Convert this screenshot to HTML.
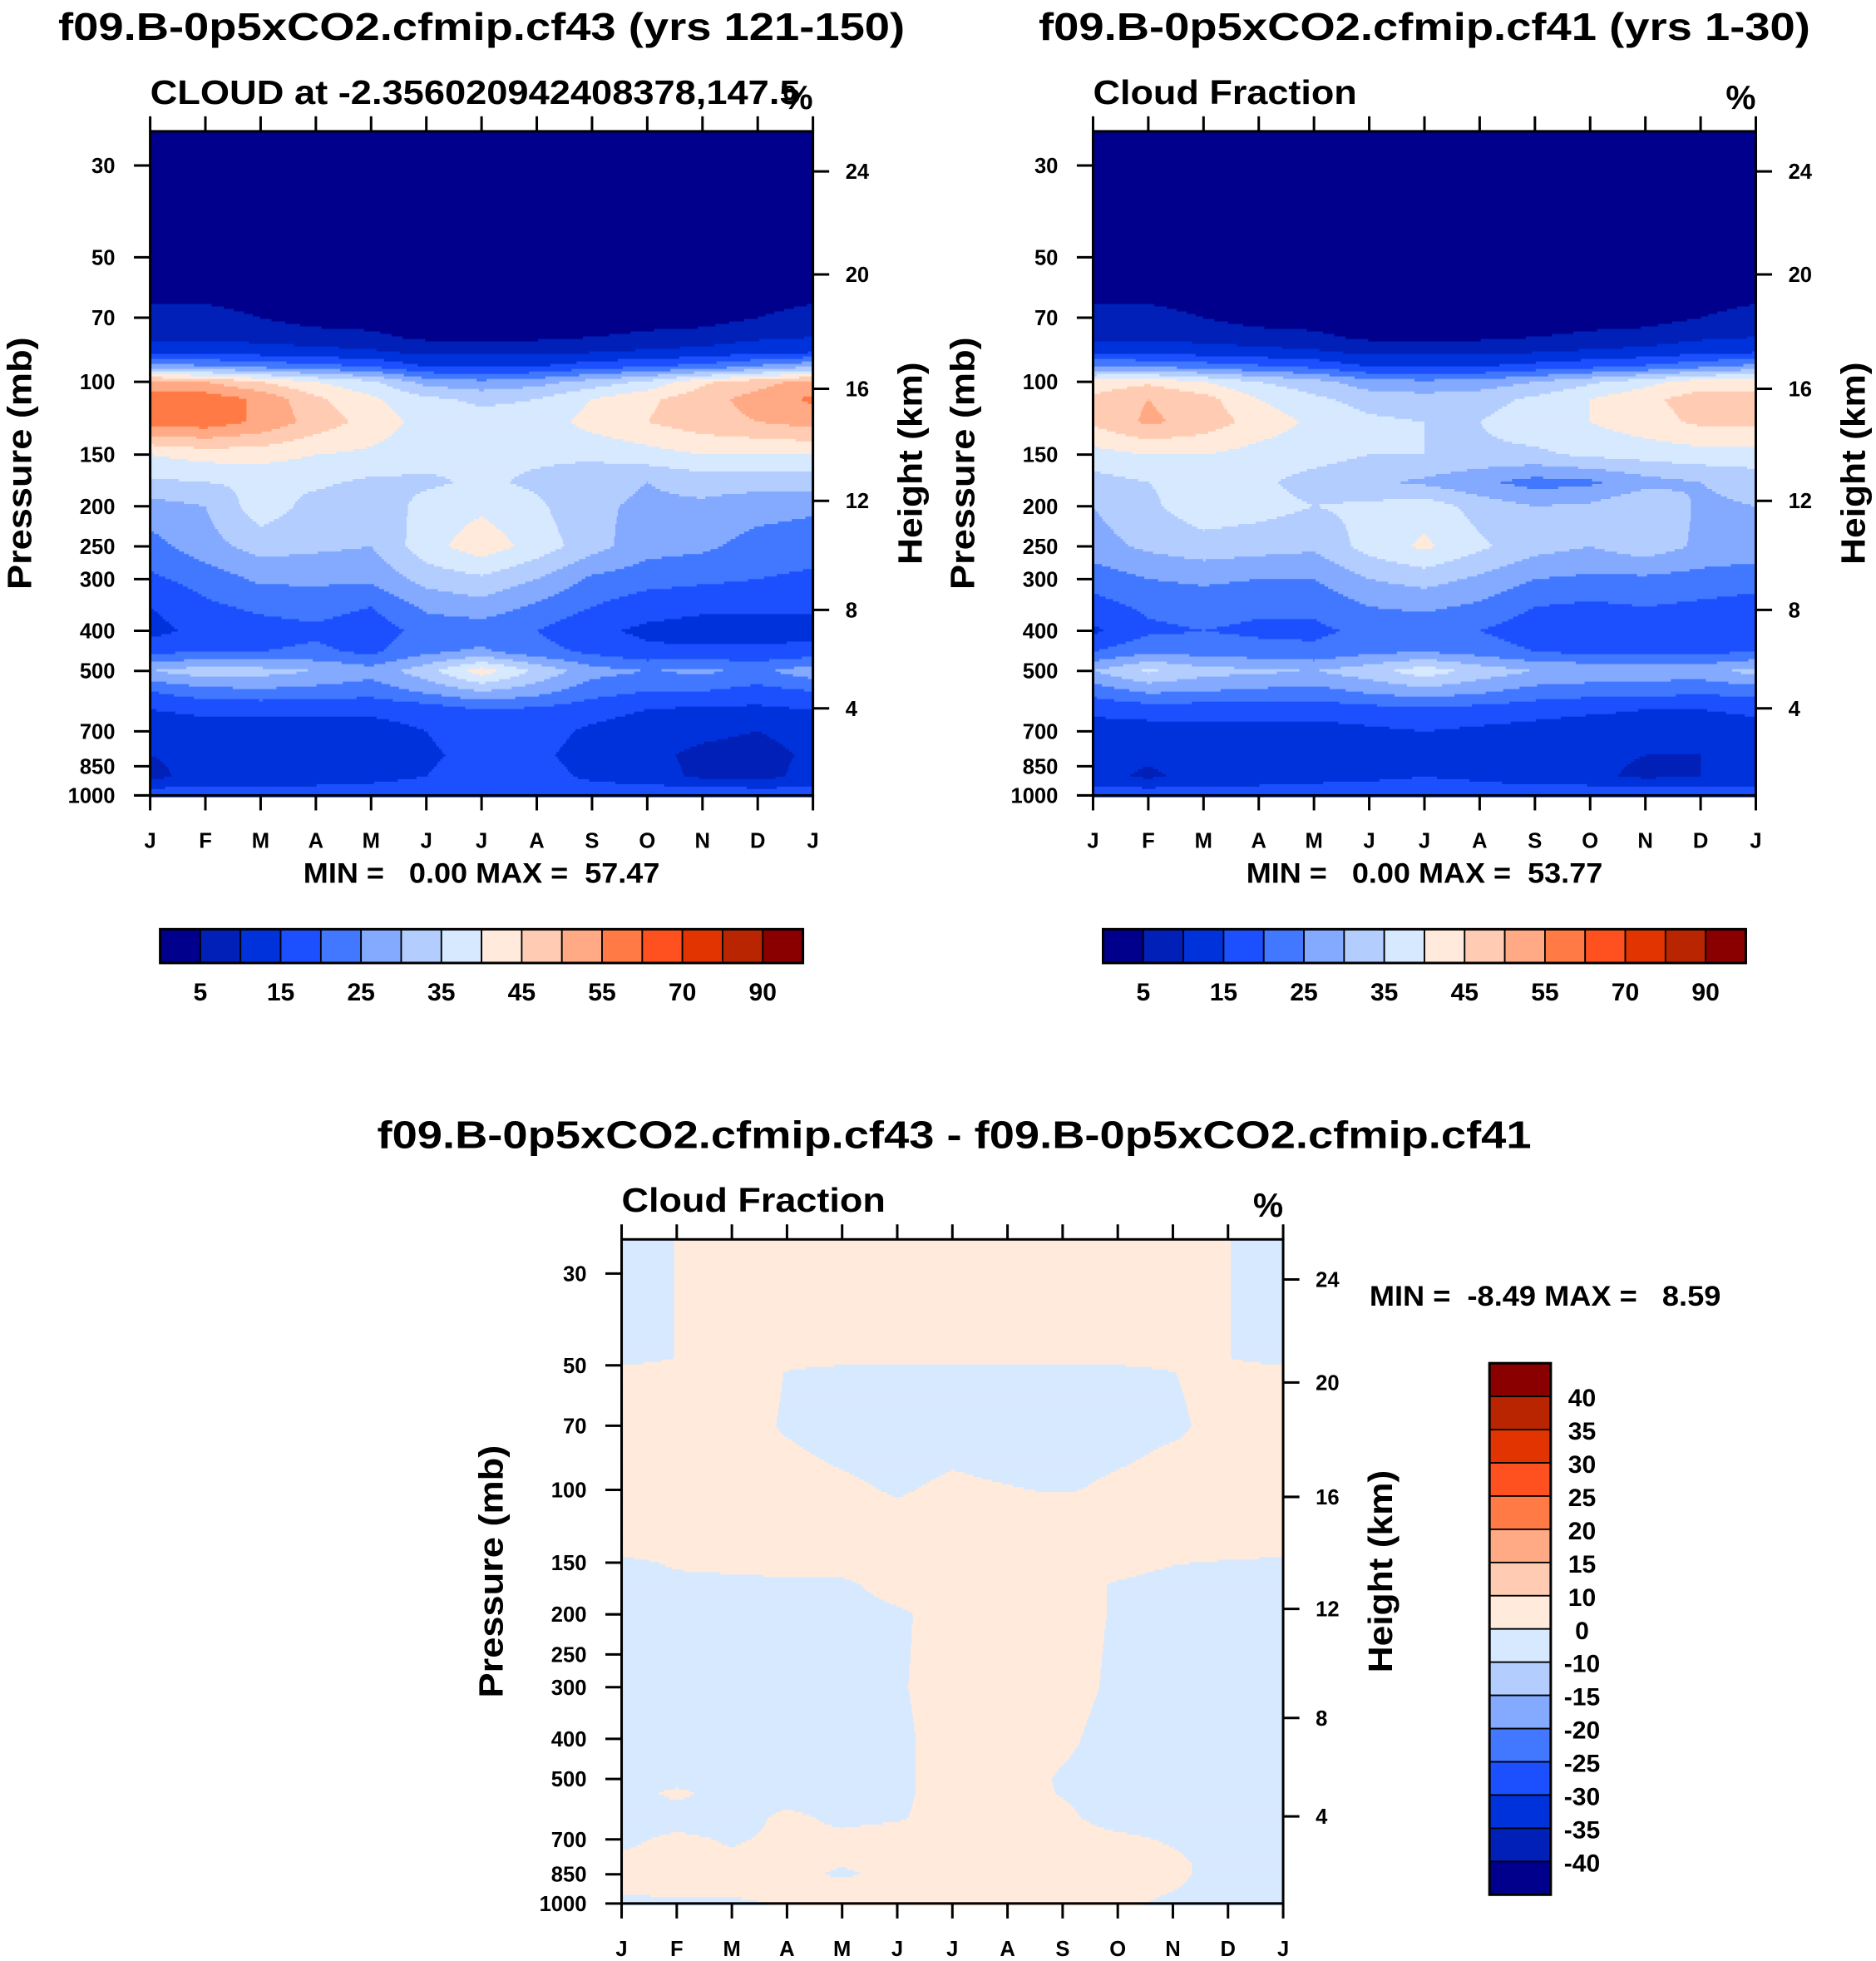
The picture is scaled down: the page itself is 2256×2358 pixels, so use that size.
<!DOCTYPE html>
<html><head><meta charset="utf-8">
<style>
html,body{margin:0;padding:0;background:#fff;}
svg{display:block;font-family:"Liberation Sans",Arial,sans-serif;font-weight:bold;}
</style></head>
<body>
<svg id="fig" width="2256" height="2358" viewBox="0 0 1500 1568" xmlns="http://www.w3.org/2000/svg">
<rect width="1500" height="1568" fill="#fff"/>
</svg>
<script>
// ---------- data ----------
const months = ["J","F","M","A","M","J","J","A","S","O","N","D","J"];
const pLevels = [25,60,70,78,85,92,100,110,125,150,175,200,250,300,350,400,450,500,560,620,700,800,900,970,1000];
const cf43Values = [
[1,1,1,1,1,1,1,1,1,1,1,1,1],
[3,3,2,1,1,1,1,1,1,1,1,2,3],
[7,7,5,3,3,2,2,2,2,3,3,5,7],
[9,9,8,7,6,4,4,4,5,6,7,9,10],
[14,14,13,12,11,9,9,9,10,11,12,14,15],
[28,26,24,22,20,15,15,15,18,20,22,26,30],
[52,50,45,40,36,28,26,28,32,36,44,48,52],
[58,58,54,46,41,36,34,35,40,44,48,52,56],
[57,58,54,48,43,38,37,37,42,45,48,50,52],
[40,42,42,40,39,37,36,36,36,38,40,40,40],
[34,35,36,36,34,34,36,34,32,30,32,32,32],
[28,30,38,33,31,37,39,36,31,29,29,27,26],
[23,28,32,31,30,38,43,38,32,27,26,23,22],
[19,22,26,26,26,32,34,30,24,22,21,20,19],
[15,19,21,22,20,26,28,24,20,17,16,16,16],
[13,17,18,19,17,22,22,20,16,14,13,13,13],
[19,20,20,21,19,24,26,22,19,16,16,16,17],
[30,33,32,30,27,33,43,34,27,25,26,24,28],
[20,23,24,23,22,26,30,27,22,20,20,18,20],
[15,16,16,16,16,17,20,19,17,15,14,14,15],
[12,13,13,13,13,15,18,17,14,12,11,10,12],
[10,12,12,12,12,14,17,16,13,11,9,8,11],
[8,13,13,13,13,15,18,17,14,12,9,8,12],
[16,16,16,16,17,18,18,17,17,17,17,16,16],
[17,17,17,17,18,18,18,18,18,18,18,17,17]];
const cf41Values = [
[1,1,1,1,1,1,1,1,1,1,1,1,1],
[3,3,2,1,1,1,1,1,1,1,1,2,3],
[7,7,5,3,3,2,2,2,2,3,3,5,7],
[9,9,8,7,6,4,4,4,5,6,7,9,10],
[14,14,13,12,11,9,9,9,10,11,12,14,15],
[26,25,23,21,19,15,15,15,17,19,21,24,27],
[42,44,40,35,32,27,26,27,30,34,38,43,43],
[46,50,47,40,36,33,32,33,36,40,44,47,47],
[46,51,48,43,39,36,35,35,38,40,43,46,46],
[38,40,40,38,37,35,35,34,34,36,37,38,38],
[33,35,37,36,33,31,29,26,23,24,28,30,32],
[30,34,38,37,35,36,38,33,30,31,35,29,30],
[28,31,33,32,31,37,41,36,32,30,33,29,28],
[22,25,26,25,25,30,32,29,25,24,24,23,22],
[18,21,22,21,21,25,26,24,20,19,20,19,18],
[14,19,20,19,19,21,22,20,17,16,16,16,16],
[20,24,23,22,21,24,25,23,20,19,19,19,20],
[30,36,32,31,30,33,38,33,30,29,28,28,32],
[22,26,25,24,23,26,28,26,23,22,22,21,22],
[16,17,17,17,17,18,19,18,17,16,15,15,16],
[13,13,13,13,13,14,15,14,13,12,12,12,13],
[12,11,12,12,12,13,14,13,12,11,10,10,12],
[12,9,12,13,13,14,15,14,12,11,9,10,12],
[16,16,16,16,17,17,17,17,17,17,17,16,16],
[17,17,17,17,17,17,17,17,17,17,17,17,17]];
const diffLevels = [25,48,52,70,80,100,110,140,150,170,200,300,400,500,540,620,700,800,850,900,1000];
const diffValues = [
[-2,0.1,2,2,2,2,2,2,2,2,2,0.1,-2],
[-2,0.1,2,2,2,2,2,2,2,2,2,0.1,-2],
[2,2,3,-0.2,-2,-2,-2,-2,-2,-2,-0.1,2,2],
[2,2,2,-0.5,-2,-2,-2,-2,-2,-2,-1,2,2],
[2,2,1,0.5,-1,-2,-1,-2,-2,-1,0.5,1,2],
[2,2,2,2,1,-0.5,1,0.3,-0.5,1,2,2,2],
[2,2,2,2,2,0.5,2,2,2,2,2,2,2],
[1,2,2,2,2,2,2,2,2,2,2,2,1],
[-1,0.5,1,1,2,2,2,2,2,2,0.3,-0.5,-1],
[-2,-1,-1,-0.5,-1,2,2,2,2,-0.5,-2,-2,-2],
[-2,-2,-2,-2,-2,-0.8,2,2,2,-0.5,-2,-2,-2],
[-2,-2,-2,-2,-2,-0.5,2,2,2,-1,-2,-2,-2],
[-2,-2,-2,-2,-2,-1,2,2,1,-2,-2,-2,-2],
[-2,-2,-2,-2,-2,-1,2,2,-0.5,-2,-2,-2,-2],
[-2,1,-2,-2,-2,-1,2,2,-0.3,-2,-2,-2,-2],
[-2,-2,-2,1,-1,-0.5,2,2,1,-2,-2,-2,-2],
[-1,1,-0.5,1,1,2,2,2,2,1,-0.5,-2,-2],
[1,2,1,2,0.5,2,2,2,2,2,1,-2,-2],
[2,2,2,2,-1,2,2,2,2,2,1,-2,-2],
[1,2,2,2,2,2,2,2,2,2,0.5,-2,-2],
[-1,-1,-1,0.5,1,1,1,1,1,1,-1,-2,-2]];
const cfContourLevels = [5,10,15,20,25,30,35,40,45,50,55,60,70,80,90];
const cfBarLabels = ["5","15","25","35","45","55","70","90"];
const diffContourLevels = [-40,-35,-30,-25,-20,-15,-10,0,10,15,20,25,30,35,40];
const palette = ["#00008C","#0020B8","#0032DC","#1C50FF","#4178FF","#84AAFF","#B3CDFF","#D7E9FF","#FFEADB","#FFCCB3","#FFAA85","#FF7A45","#FF5020","#E23400","#B82500","#8A0000"];
const pressureTicks = [30,50,70,100,150,200,250,300,400,500,700,850,1000];
const heightTicks = [24,20,16,12,8,4];
const heightTickPressures = [31,55,104,194,356,616];

// ---------- helpers ----------
const svg = document.getElementById('fig');
const NS = "http://www.w3.org/2000/svg";
function mk(tag, attrs, parent){
  const e = document.createElementNS(NS, tag);
  for (const k in attrs) e.setAttribute(k, attrs[k]);
  (parent||svg).appendChild(e); return e;
}
function txt(s, x, y, size, anchor, parent, rot, len){
  const t = mk('text',{x:x,y:y,'font-size':size,'text-anchor':anchor||'start',fill:'#000'},parent);
  if (rot) t.setAttribute('transform','rotate('+rot+' '+x+' '+y+')');
  if (len){ t.setAttribute('textLength',len); t.setAttribute('lengthAdjust','spacingAndGlyphs'); }
  t.style.whiteSpace='pre';
  t.textContent = s; return t;
}
const PTOP = 24.8, PBOT = 1000;
function colorFor(v, levels){
  let i=0; while(i<levels.length && v>=levels[i]) i++; return palette[i];
}
function sample(grid, plev, m, lp){
  let r=0; while(r<plev.length-2 && Math.log(plev[r+1])<lp) r++;
  const l0=Math.log(plev[r]), l1=Math.log(plev[r+1]);
  let ty=(lp-l0)/(l1-l0); ty=Math.max(0,Math.min(1,ty));
  let c=Math.min(11,Math.floor(m)); let tx=m-c;
  const a=grid[r][c]*(1-tx)+grid[r][c+1]*tx;
  const b=grid[r+1][c]*(1-tx)+grid[r+1][c+1]*tx;
  return a*(1-ty)+b*ty;
}

function panel(opt){
  const g = mk('g',{});
  
  
  const {x0,y0,w,h} = opt;
  const yOfP = p => y0 + h*(Math.log(p)-Math.log(PTOP))/(Math.log(PBOT)-Math.log(PTOP));
  const xOfM = m => x0 + w*m/12;
  const cg = mk('g',{},g);
  
  
  const step=2;
  for (let yy=0; yy<h; yy+=step){
    const lp = Math.log(PTOP)+(yy+step/2)/h*(Math.log(PBOT)-Math.log(PTOP));
    let runStart=0, runCol=null;
    for (let xx=0; xx<=w; xx+=1){
      let col=null;
      if (xx<w){ const m=(xx+0.5)/w*12; col=colorFor(sample(opt.grid,opt.plev,m,lp),opt.levels); }
      if (col!==runCol){
        if (runCol!==null){
          mk('rect',{x:x0+runStart,y:y0+yy,width:xx-runStart+0.6,height:step+0.6,fill:runCol},cg);
        }
        runStart=xx; runCol=col;
      }
    }
  }
  const fr = mk('rect',{x:x0,y:y0,width:w,height:h,fill:'none',stroke:'#000','stroke-width':2},g);
  
  
  const xg = mk('g',{},g);
  
  
  months.forEach((mo,i)=>{
    const x=xOfM(i);
    mk('line',{x1:x,y1:y0,x2:x,y2:y0-12,stroke:'#000','stroke-width':2},xg);
    mk('line',{x1:x,y1:y0+h,x2:x,y2:y0+h+12,stroke:'#000','stroke-width':2},xg);
    const t=txt(mo,x,y0+h+42,17,'middle',xg);
    
    
  });
  const yg = mk('g',{},g);
  
  
  pressureTicks.forEach(p=>{
    const y=yOfP(p);
    mk('line',{x1:x0,y1:y,x2:x0-13,y2:y,stroke:'#000','stroke-width':2},yg);
    const t=txt(String(p),x0-28,y+6,17,'end',yg);
    
    
  });
  const yt=txt('Pressure (mb)',x0-95,y0+h*0.5,27,'middle',yg,-90,202);
  
  
  const hg = mk('g',{},g);
  
  
  heightTicks.forEach((hk,i)=>{
    const y=yOfP(heightTickPressures[i]);
    mk('line',{x1:x0+w,y1:y,x2:x0+w+13,y2:y,stroke:'#000','stroke-width':2},hg);
    const t=txt(String(hk),x0+w+26,y+6,17,'start',hg);
    
    
  });
  const ht=txt('Height (km)',x0+w+87,y0+h*0.5,27,'middle',hg,-90,162);
  
  
  const t1=txt(opt.title,opt.titleX,opt.titleY,31,'middle',g,0,opt.titleLen);
  
  
  const t2=txt(opt.sub,x0,y0-22,27,'start',g,0,opt.subLen);
  
  
  const t3=txt('%',x0+w,y0-18,27,'end',g);
  
  
  return g;
}

function hBar(x0,y0,name){
  const g=mk('g',{});
  
  
  const bw=514/16;
  palette.forEach((c,i)=>{
    const r=mk('rect',{x:x0+i*bw,y:y0,width:bw,height:27,fill:c,stroke:'#000','stroke-width':1.2},g);
    
    
  });
  mk('rect',{x:x0,y:y0,width:514,height:27,fill:'none',stroke:'#000','stroke-width':2},g);
  cfBarLabels.forEach((l,i)=>{
    const t=txt(l,x0+bw*(1+2*i),y0+57,20,'middle',g);
    
    
  });
}

panel({name:'cf43-panel',x0:120,y0:105,w:530,h:531,grid:cf43Values,plev:pLevels,levels:cfContourLevels,
  title:'f09.B-0p5xCO2.cfmip.cf43 (yrs 121-150)',titleX:385,titleY:32,titleLen:677,
  sub:'CLOUD at -2.356020942408378,147.5',subLen:520});
panel({name:'cf41-panel',x0:874,y0:105,w:530,h:531,grid:cf41Values,plev:pLevels,levels:cfContourLevels,
  title:'f09.B-0p5xCO2.cfmip.cf41 (yrs 1-30)',titleX:1139,titleY:32,titleLen:617,
  sub:'Cloud Fraction',subLen:211});
panel({name:'diff-panel',x0:497,y0:991,w:529,h:531,grid:diffValues,plev:diffLevels,levels:diffContourLevels,
  title:'f09.B-0p5xCO2.cfmip.cf43 - f09.B-0p5xCO2.cfmip.cf41',titleX:763,titleY:918,titleLen:923,
  sub:'Cloud Fraction',subLen:211});

let s;
s=txt('MIN =   0.00 MAX =  57.47',385,706,23,'middle',null,0,285);  
s=txt('MIN =   0.00 MAX =  53.77',1139,706,23,'middle',null,0,285);  
s=txt('MIN =  -8.49 MAX =   8.59',1095,1044,23,'start',null,0,281);  

hBar(128,743,'cf43-colorbar');
hBar(882,743,'cf41-colorbar');

(function(){
  const g=mk('g',{});
  
  
  const x0=1191,y0=1090,bh=425/16;
  for(let i=0;i<16;i++){
    const r=mk('rect',{x:x0,y:y0+i*bh,width:49,height:bh,fill:palette[15-i],stroke:'#000','stroke-width':1.2},g);
    
    
  }
  mk('rect',{x:x0,y:y0,width:49,height:425,fill:'none',stroke:'#000','stroke-width':2},g);
  for(let i=0;i<15;i++){
    const v=diffContourLevels[14-i];
    const t=txt(String(v),1265,y0+(i+1)*bh+8,20,'middle',g);
    
    
  }
})();
</script>
</body></html>
